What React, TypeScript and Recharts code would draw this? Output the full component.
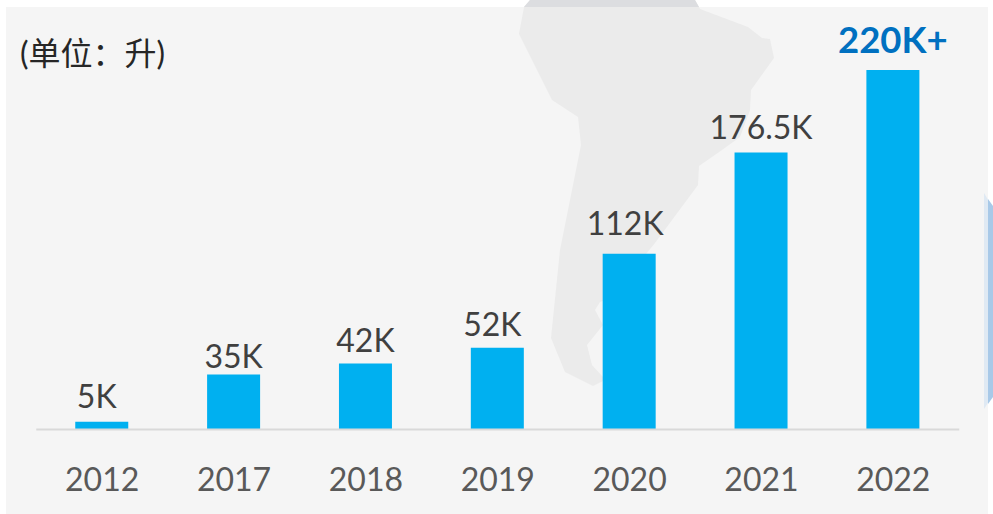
import React from "react";
import { BarChart, Bar, XAxis, YAxis, LabelList } from "recharts";

const years = ["2012", "2017", "2018", "2019", "2020", "2021", "2022"];
const litres = [5, 35, 42, 52, 112, 176.5, 229];
const valueLabels = ["5K", "35K", "42K", "52K", "112K", "176.5K", "220K+"];
const rows = years.map((year, i) => ({ year, litres: litres[i], text: valueLabels[i] }));

const labelGaps = [14, 7, 12, 12, 19, 13, 17];
const labelShifts = [-5, 0, 0, -5, -4, 0, 0];
const FONT = "Lato, 'Noto Sans CJK SC', sans-serif";
const mapOutline =
  "530,0 524,7 519,34 552,100 578,117 581,145 560,250 551,338 565,372 593,386 603,381 603,377 592,365 587,345 595,335 603,325 595,310 600,302 610,298 655,243 698,185 699,166 722,150 740,137 750,110 751,90 774,58 770,39 762,38 748,27 700,9 695,0";

function ValueLabel(props: any) {
  const { x, y, width, index } = props;
  const emphasised = index === valueLabels.length - 1;
  return (
    <text
      x={x + width / 2 + labelShifts[index]}
      y={y - labelGaps[index]}
      textAnchor="middle"
      fontFamily={FONT}
      fontSize={emphasised ? 36.5 : 32}
      fontWeight={emphasised ? 700 : 400}
      fill={emphasised ? "#0070c0" : "#404040"}
    >
      {valueLabels[index]}
    </text>
  );
}

export default function App() {
  return (
    <div style={{ position: "absolute", left: 0, top: 0, width: 993, height: 514, overflow: "hidden", background: "#fff" }}>
      <svg width={993} height={514} style={{ position: "absolute", left: 0, top: 0 }}>
        <rect x={6} y={7} width={982} height={507} fill="#f5f5f5" />
        <polygon points="984,193 993,208 993,395 984,409" fill="#dfe9f3" />
        <polygon points="988,199 993,206 993,397 988,404" fill="#a8c9e8" />
        <polygon points={mapOutline} fill="#ebebeb" />
        <polygon points="530,0 524,7 699,7 695,0" fill="#dcdde0" />
        <text x={20} y={65} fontFamily={FONT} fontSize={32} fill="#262626">(单位：升)</text>
      </svg>
      <div style={{ position: "absolute", left: 0, top: 0 }}>
        <BarChart width={993} height={514} data={rows} margin={{ top: 70, right: 33.75, bottom: 0, left: 36.25 }}>
          <XAxis
            dataKey="year"
            height={84.5}
            tickLine={false}
            axisLine={{ stroke: "#d9d9d9", strokeWidth: 2 }}
            tick={{ fontFamily: FONT, fontSize: 32, fill: "#595959" }}
            tickMargin={33}
            interval={0}
          />
          <YAxis hide domain={[0, 229]} />
          <Bar dataKey="litres" fill="#00b0f0" barSize={53} isAnimationActive={false}>
            <LabelList dataKey="text" content={<ValueLabel />} />
          </Bar>
        </BarChart>
      </div>
    </div>
  );
}
